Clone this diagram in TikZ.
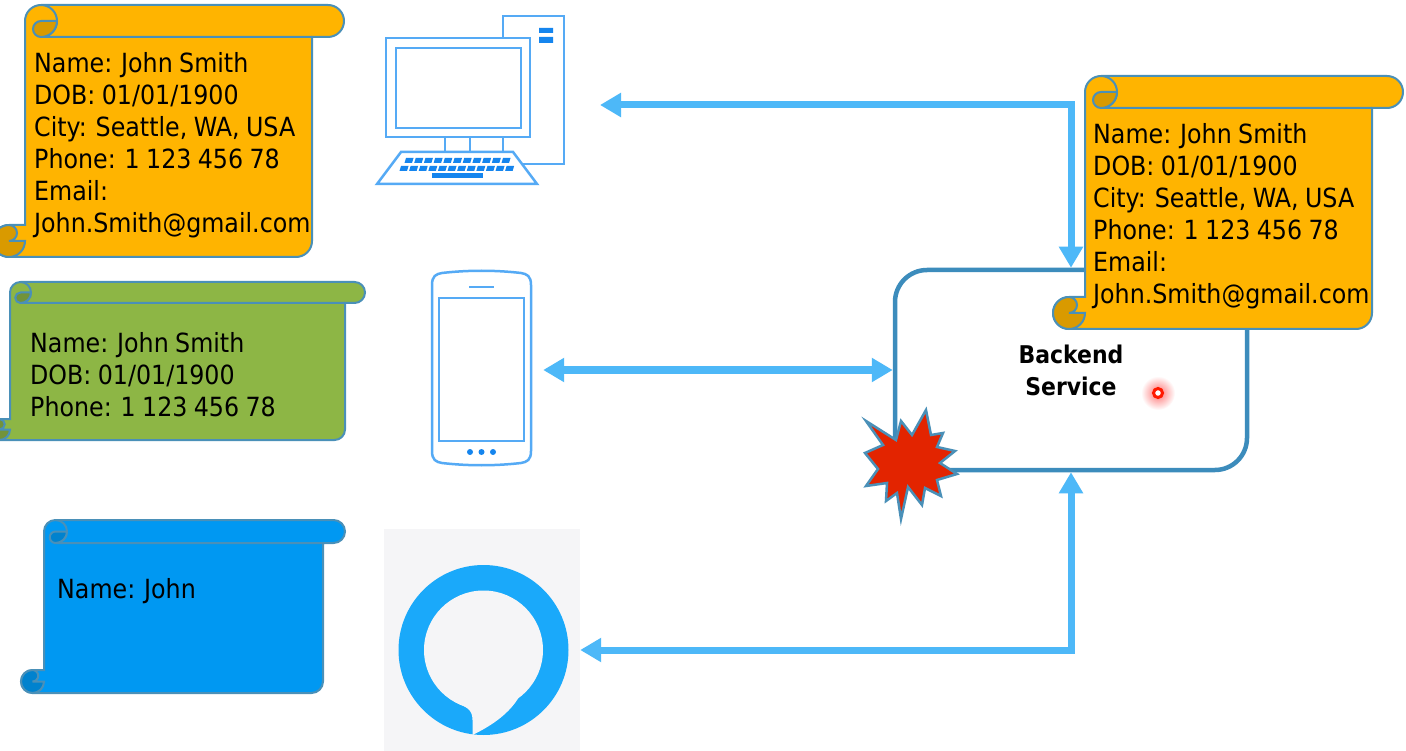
\documentclass[tikz,border=0pt]{standalone}
\usepackage{fontspec}
\setmainfont[WordSpace=0.85]{DejaVu Sans Condensed}
\usetikzlibrary{arrows.meta}
\definecolor{scrollline}{HTML}{4A90B8}
\definecolor{serviceline}{HTML}{3C8CBC}
\definecolor{amber}{HTML}{FFB400}
\definecolor{amberdark}{HTML}{D99A00}
\definecolor{leaf}{HTML}{8DB645}
\definecolor{leafdark}{HTML}{72933A}
\definecolor{sky}{HTML}{0098F2}
\definecolor{skydark}{HTML}{0082CE}
\definecolor{flow}{HTML}{4DB8F8}
\definecolor{icon}{HTML}{55AAF5}
\definecolor{icondark}{HTML}{1585EE}
\definecolor{ringblue}{HTML}{1AA9FA}
\definecolor{ringback}{HTML}{F5F5F7}
\definecolor{burst}{HTML}{E32400}
\tikzset{
    cardtext/.style={anchor=north west,align=left,inner sep=0pt,font=\fontsize{26.4}{32}\selectfont},
    flowline/.style={draw=flow,line width=7pt,{Triangle[length=21pt,width=23pt]}-{Triangle[length=21pt,width=23pt]}},
    iconline/.style={draw=icon,line width=2.5pt},
}
% left, body right, band right, top, bottom, curl radius, colour
\newcommand{\drawscroll}[7]{
    \draw[scrollline,line width=2pt,fill=#7] (#1,#4+#6) arc (180:270:#6) -- (#3-#6,#4) arc (270:450:#6)
        -- (#2,#4+2*#6) -- (#2,#5-#6) arc (0:90:#6) -- (#1-#6,#5) arc (90:270:#6) -- (#1,#5-2*#6) -- cycle;
    \draw[scrollline,line width=2pt] (#1+#6,#4) arc (270:450:#6) -- (#2,#4+2*#6);
    \draw[scrollline,line width=2pt,fill=#7dark] (#1+2*#6,#4+#6) -- (#1+#6,#4+#6) arc (270:90:#6/2) arc (90:0:#6);
    \draw[scrollline,line width=2pt,fill=#7dark] (#1-#6,#5-2*#6) arc (270:450:#6/2) -- (#1,#5-#6) arc (0:270:#6);
}
\begin{document}
\begin{tikzpicture}[x=1pt,y=-1pt]
    \clip (0,0) rectangle (1406,751);
    \useasboundingbox (0,0) rectangle (1406,751);
    \fill[white] (0,0) rectangle (1406,751);

    \node[draw=serviceline,line width=4.5pt,fill=white,rounded corners=32pt,minimum width=352pt,minimum height=200pt,align=center,font=\fontsize{24.4}{32}\selectfont\bfseries] (backend) at (1071,370) {Backend\\Service};
    \node[inner sep=0pt,minimum width=123pt,minimum height=194pt] (phone) at (481.5,368) {};
    \node[fill=ringback,inner sep=0pt,minimum width=196pt,minimum height=222pt] (alexa) at (482,640) {};
    \node[circle,fill=ringblue,inner sep=0pt,minimum size=170pt] (ring) at (483.5,650) {};
    \coordinate (computerport) at (600,105);

    % alexa hole with its tail
    \fill[ringback] (483.5,650) circle (59.5);
    \fill[ringback] (455,702) .. controls (466,707) and (472.5,709) .. (472.5,720) -- (472.5,735)
        .. controls (495,724) and (510,712) .. (519,697) -- cycle;

    \draw[flowline] (computerport) -| (backend.north);
    \draw[flowline] (phone.east |- backend.west) -- (backend.west);
    \draw[flowline] (alexa.east |- ring) -| (backend.south);

    % computer
    \draw[iconline] (503,38) -- (503,16) -- (564,16) -- (564,164) -- (523,164);
    \draw[iconline] (503,137) -- (503,152);
    \draw[iconline,fill=white] (386,38) rectangle (530,137);
    \draw[iconline] (396,48) rectangle (521,128);
    \draw[iconline] (445,137) -- (445,152) (470,137) -- (470,152);
    \draw[iconline,fill=white] (401,152) -- (513,152) -- (537,184) -- (377,184) -- cycle;
    \fill[icondark] (539,28) rectangle (553,33) (539,37) rectangle (553,43);
    \foreach \k in {0,...,10} {
        \fill[icondark] (406+\k*9.7,158) -- ++(7.5,0) -- ++(-1.5,5) -- ++(-7.5,0) -- cycle;
    }
    \foreach \k in {0,...,11} {
        \fill[icondark] (401+\k*9.6,166) -- ++(7.5,0) -- ++(-1.5,5) -- ++(-7.5,0) -- cycle;
    }
    \fill[icondark] (432,173) rectangle (483,178);

    % phone
    \draw[iconline] (432,285) .. controls (432,276) and (436,274) .. (442,273) .. controls (468,270) and (495,270) .. (521,273)
        .. controls (527,274) and (531,276) .. (531,285) -- (531,451) .. controls (531,460) and (527,462) .. (521,463)
        .. controls (495,466) and (468,466) .. (442,463) .. controls (436,462) and (432,460) .. (432,451) -- cycle;
    \draw[iconline] (439,298) rectangle (524,441);
    \draw[iconline] (469,287) -- (494,287);
    \foreach \k in {470,481.5,493} {
        \fill[icondark] (\k,452) circle (3);
    }

    \drawscroll{25}{312}{344}{5}{257}{16}{amber}
    \drawscroll{10}{345}{365}{282}{440}{10.5}{leaf}
    \drawscroll{44}{323}{345}{520}{693}{11.5}{sky}
    \drawscroll{1085}{1372}{1403}{76}{329}{16}{amber}

    \node[cardtext] (card1) at (34,52) {Name: John Smith\\DOB: 01/01/1900\\City: Seattle, WA, USA\\Phone: 1 123 456 78\\Email:\\John.Smith@gmail.com};
    \node[cardtext] (card2) at (30,332) {Name: John Smith\\DOB: 01/01/1900\\Phone: 1 123 456 78};
    \node[cardtext] (card3) at (57,578) {Name: John};
    \node[cardtext] (card4) at (1093,123) {Name: John Smith\\DOB: 01/01/1900\\City: Seattle, WA, USA\\Phone: 1 123 456 78\\Email:\\John.Smith@gmail.com};

    % burst
    \draw[scrollline,line width=2.5pt,fill=burst,line join=miter] (926,410) -- (931,435) -- (943,433) -- (937,447) -- (955,451)
        -- (940,463) -- (957,474) -- (937,480) -- (941,496) -- (925,488) -- (922,505) -- (908,487) -- (901,519)
        -- (897,493) -- (886,501) -- (887,483) -- (866,486) -- (878,469) -- (865,453) -- (883,445) -- (866,421)
        -- (896,440) -- (901,421) -- (912,435) -- cycle;

    % pointer
    \shade[inner color=red!55,outer color=white] (1158,393) circle (17);
    \draw[red!80!orange,line width=3pt,fill=white] (1158,393) circle (4.5);
\end{tikzpicture}
\end{document}
